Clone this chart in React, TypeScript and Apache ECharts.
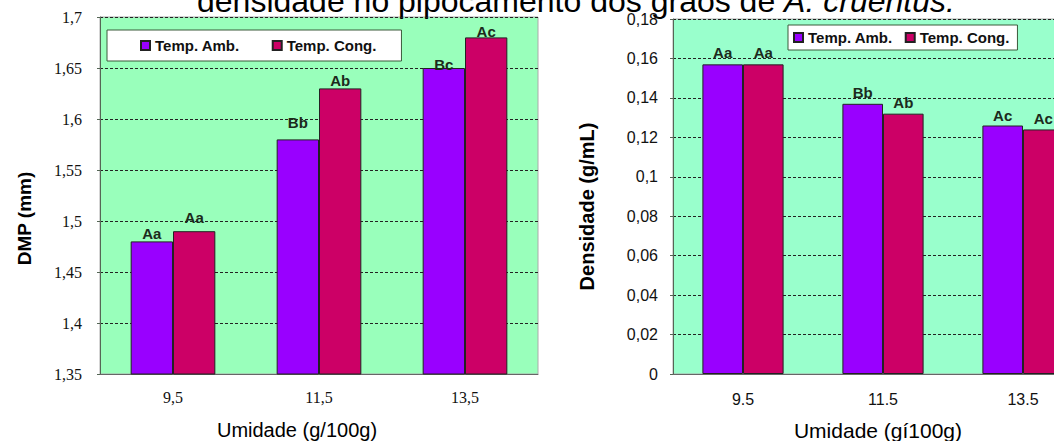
import React, { useEffect, useRef } from "react";
import * as echarts from "echarts";

const leftCategories = ["9,5", "11,5", "13,5"];
const rightCategories = ["9.5", "11.5", "13.5"];
const seriesNames = ["Temp. Amb.", "Temp. Cong."];

const dmpAmb = [1.48, 1.58, 1.65];
const dmpCong = [1.49, 1.63, 1.68];
const dmpLettersAmb = ["Aa", "Bb", "Bc"];
const dmpLettersCong = ["Aa", "Ab", "Ac"];

const densAmb = [0.157, 0.137, 0.126];
const densCong = [0.157, 0.132, 0.124];
const densLettersAmb = ["Aa", "Bb", "Ac"];
const densLettersCong = ["Aa", "Ab", "Ac"];

const dmpAxis = { min: 1.35, max: 1.7, interval: 0.05 };
const densAxis = { min: 0, max: 0.18, interval: 0.02 };

// label nudges (distance above bar top, px)
const dmpLiftAmb = [0, 9, -4];
const dmpLiftCong = [6, 0, -2];
const densLift = [4, 4, 3];

const SANS = '"Liberation Sans", Arial, sans-serif';
const SERIF = '"Liberation Serif", "Times New Roman", serif';
const PURPLE = "#9900FF";
const RED = "#CC0066";

const fmt = (v: number) => String(parseFloat(v.toFixed(3))).replace(".", ",");

export default function App() {
  const ref = useRef<HTMLDivElement>(null);
  useEffect(() => {
    if (!ref.current) return;
    const chart = echarts.init(ref.current, null, { renderer: "svg" });

    const labelBase = {
      show: true,
      position: "top",
      fontFamily: SANS,
      fontSize: 15,
      fontWeight: "bold",
      color: "#1c2a1c",
    };
    const mk = (vals: number[], letters: string[], lifts: number[]) =>
      vals.map((v, i) => ({ value: v, label: { formatter: letters[i], distance: lifts[i] } }));

    const barCommon = (color: string) => ({
      type: "bar",
      barGap: "0%",
      barCategoryGap: "42%",
      itemStyle: { color, borderColor: "#222", borderWidth: 1 },
      label: labelBase,
    });

    const legendCommon = {
      data: seriesNames,
      icon: "rect",
      itemWidth: 9,
      itemHeight: 9,
      backgroundColor: "#fff",
      borderColor: "#3a5a3a",
      borderWidth: 1,
      textStyle: { fontFamily: SANS, fontSize: 15, fontWeight: "bold", color: "#111", lineHeight: 15 },
    };

    const option: any = {
      animation: false,
      graphic: [
        {
          type: "text",
          x: 197,
          y: 17,
          style: {
            text: "{n|densidade no pipocamento dos grãos de }{i|A. cruentus.}",
            rich: {
              n: { fontFamily: SANS, fontSize: 32, fill: "#000" },
              i: { fontFamily: SANS, fontSize: 32, fontStyle: "italic", fill: "#000" },
            },
            align: "left",
            verticalAlign: "bottom",
            textAlign: "left",
            textVerticalAlign: "bottom",
          },
        },
      ],
      legend: [
        {
          ...legendCommon,
          left: 107,
          top: 30,
          padding: [8, 25, 8, 33],
          itemGap: 32,
        },
        {
          ...legendCommon,
          left: 788,
          top: 25,
          padding: [5, 8, 5, 5],
          itemGap: 12,
        },
      ],
      grid: [
        {
          left: 100,
          right: 516,
          top: 17,
          bottom: 67,
          show: true,
          backgroundColor: "#99FFBB",
          borderColor: "#aaa",
          borderWidth: 1,
          outerBoundsMode: "none",
        },
        {
          left: 673,
          right: -39,
          top: 19,
          bottom: 67,
          show: true,
          backgroundColor: "#99FFCC",
          borderColor: "#aaa",
          borderWidth: 1,
          outerBoundsMode: "none",
        },
      ],
      xAxis: [
        {
          type: "category",
          gridIndex: 0,
          data: leftCategories,
          axisLine: { lineStyle: { color: "#666" } },
          axisTick: { length: 5, lineStyle: { color: "#666" } },
          axisLabel: { fontFamily: SERIF, fontSize: 16, color: "#111", margin: 15 },
          name: "Umidade (g/100g)",
          nameLocation: "middle",
          nameGap: 46,
          nameTextStyle: { fontFamily: SANS, fontSize: 20, color: "#000", padding: [0, 44, 0, 0] },
        },
        {
          type: "category",
          gridIndex: 1,
          data: rightCategories,
          axisLine: { lineStyle: { color: "#666" } },
          axisTick: { length: 5, lineStyle: { color: "#666" } },
          axisLabel: { fontFamily: SANS, fontSize: 16, color: "#111", margin: 17 },
          name: "Umidade (gí100g)",
          nameLocation: "middle",
          nameGap: 46,
          nameTextStyle: { fontFamily: SANS, fontSize: 21, color: "#000", padding: [0, 10, 0, 0] },
        },
      ],
      yAxis: [
        {
          type: "value",
          gridIndex: 0,
          ...dmpAxis,
          axisLine: { show: true, lineStyle: { color: "#556655" } },
          axisTick: { show: true, length: 3, lineStyle: { color: "#556655" } },
          axisLabel: { fontFamily: SERIF, fontSize: 16, color: "#111", margin: 18, formatter: fmt },
          splitLine: { lineStyle: { color: "#222", type: [3, 2], width: 1 } },
          name: "DMP (mm)",
          nameLocation: "middle",
          nameGap: 66,
          nameTextStyle: { fontFamily: SANS, fontSize: 19, fontWeight: "bold", color: "#000", padding: [0, 46, 0, 0] },
        },
        {
          type: "value",
          gridIndex: 1,
          ...densAxis,
          axisLine: { show: true, lineStyle: { color: "#556655" } },
          axisTick: { show: true, length: 3, lineStyle: { color: "#556655" } },
          axisLabel: { fontFamily: SANS, fontSize: 16, color: "#111", margin: 15, formatter: fmt },
          splitLine: { lineStyle: { color: "#222", type: [3, 2], width: 1 } },
          name: "Densidade (g/mL)",
          nameLocation: "middle",
          nameGap: 76,
          nameTextStyle: { fontFamily: SANS, fontSize: 20, fontWeight: "bold", color: "#000", padding: [0, 20, 0, 0] },
        },
      ],
      series: [
        { ...barCommon(PURPLE), name: seriesNames[0], xAxisIndex: 0, yAxisIndex: 0, data: mk(dmpAmb, dmpLettersAmb, dmpLiftAmb) },
        { ...barCommon(RED), name: seriesNames[1], xAxisIndex: 0, yAxisIndex: 0, data: mk(dmpCong, dmpLettersCong, dmpLiftCong) },
        { ...barCommon(PURPLE), name: seriesNames[0], xAxisIndex: 1, yAxisIndex: 1, data: mk(densAmb, densLettersAmb, densLift) },
        { ...barCommon(RED), name: seriesNames[1], xAxisIndex: 1, yAxisIndex: 1, data: mk(densCong, densLettersCong, densLift) },
      ],
    };
    chart.setOption(option);
    return () => chart.dispose();
  }, []);
  return (
    <div
      ref={ref}
      style={{ position: "fixed", left: 0, top: 0, width: 1054, height: 441, background: "#fff" }}
    />
  );
}
